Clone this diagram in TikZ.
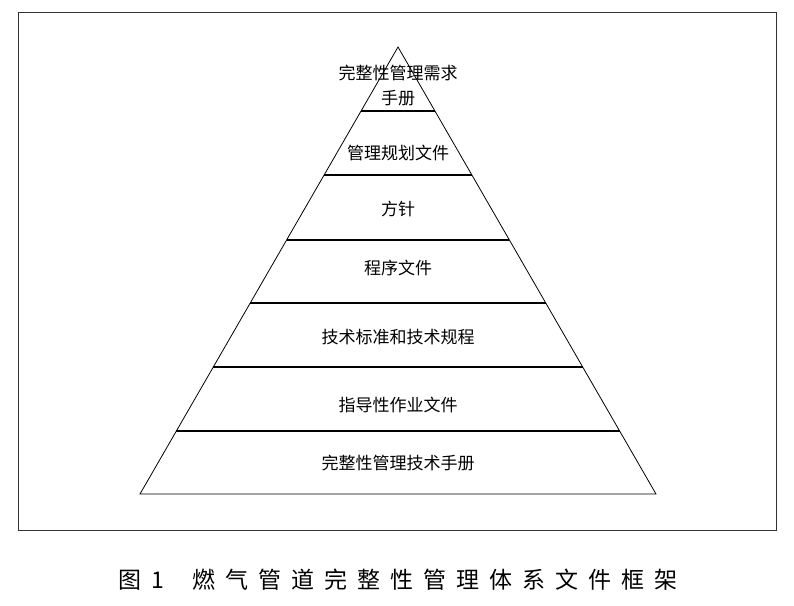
\documentclass[tikz,border=0pt]{standalone}
\usepackage{fontspec}
\setmainfont{Noto Sans CJK SC}
\usetikzlibrary{positioning}
\tikzset{
    layer/.style={font=\fontsize{17}{25}\selectfont, align=center, inner sep=0pt},
}
\newcommand{\gap}{\hspace{10pt}}
\begin{document}
\begin{tikzpicture}[x=1pt, y=-1pt]

    \useasboundingbox (0,0) rectangle (794,605);
    \draw[line width=1pt, black!80] (18,12) rectangle (776,530);

    \coordinate (apex) at (398,47);
    \coordinate (baseL) at (140,494);
    \coordinate (baseR) at (656,494);
    \draw[line width=0.8pt] (baseL) -- (apex) -- (baseR) -- cycle;

    % dividing lines between the layers
    \foreach \y in {111,175,240,303,367,431} {
        \pgfmathsetmacro{\dx}{(\y-47)*0.57718}
        \draw[line width=1.2pt] ({398-\dx},\y) -- ({398+\dx},\y);
    }

    \node[layer] (demand) at (398,86) {完整性管理需求\\手册};
    \node[layer] (plan) at (398,153) {管理规划文件};
    \node[layer] (policy) at (398,209) {方针};
    \node[layer] (procedure) at (398,268) {程序文件};
    \node[layer] (standard) at (398,337) {技术标准和技术规程};
    \node[layer] (guide) at (398,405) {指导性作业文件};
    \node[layer] (manual) at (398,463) {完整性管理技术手册};

    \node[font=\fontsize{23}{26}\selectfont, inner sep=0pt] (caption) at (398,580)
        {图\gap 1\hspace{28pt}燃\gap 气\gap 管\gap 道\gap 完\gap 整\gap 性\gap 管\gap 理\gap 体\gap 系\gap 文\gap 件\gap 框\gap 架};

\end{tikzpicture}
\end{document}
